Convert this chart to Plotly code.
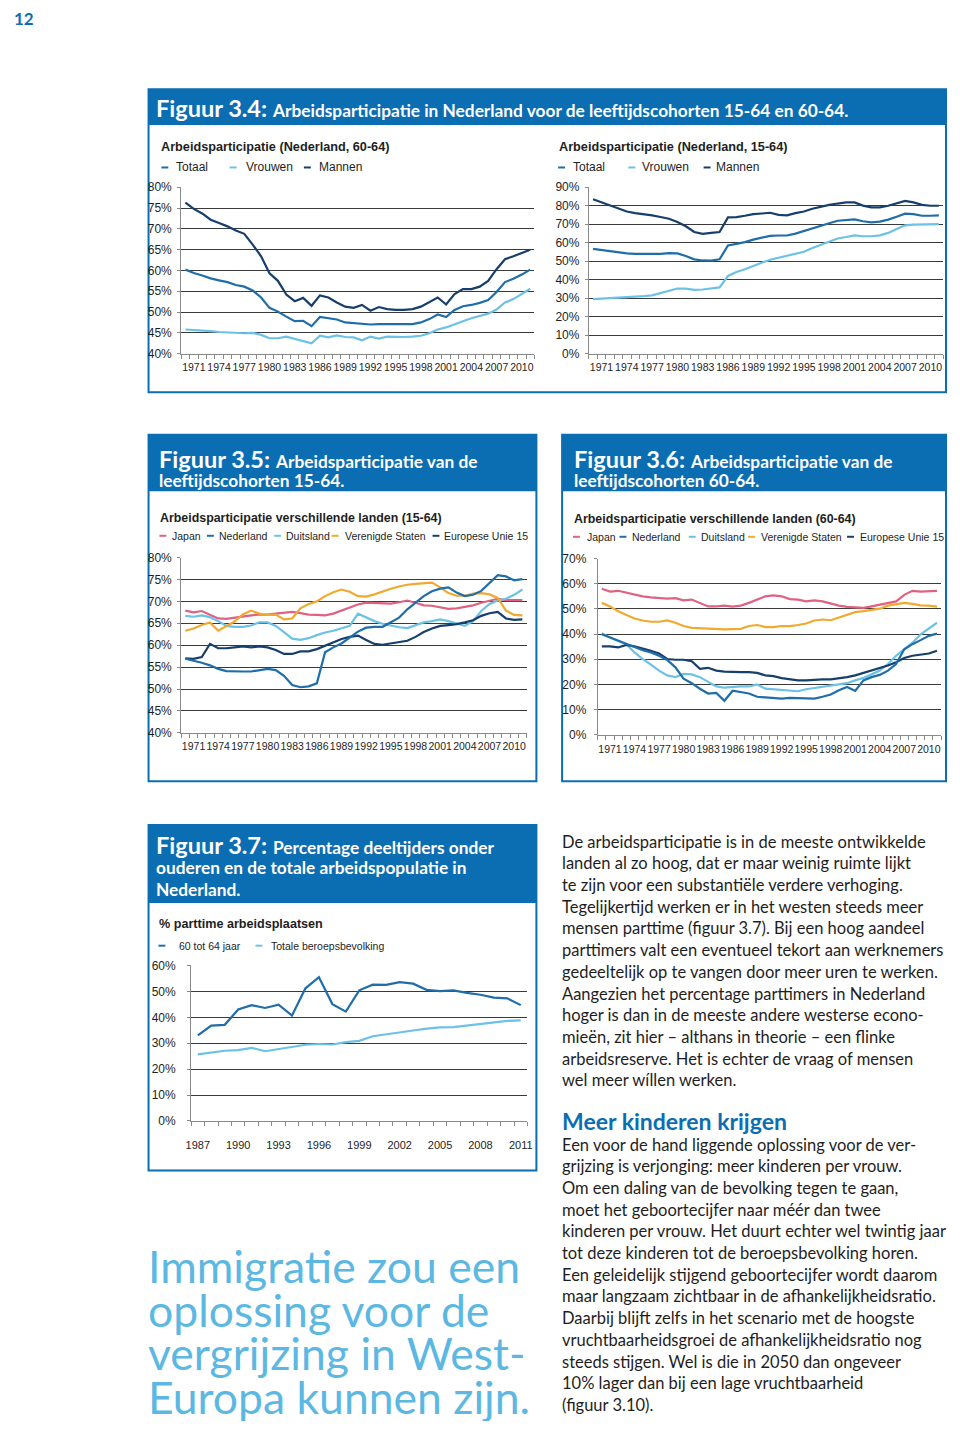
import plotly.graph_objects as go

# ---------------- DATA ----------------
years_long = list(range(1970, 2012))
years_pt = list(range(1987, 2012))

nl6064_totaal = [60.2, 59.4, 58.8, 58.1, 57.6, 57.2, 56.5, 56.1, 55.2, 53.5,
                 51.0, 50.1, 48.9, 47.8, 47.9, 46.6, 48.8, 48.5, 48.2, 47.5,
                 47.3, 47.2, 47.0, 47.1, 47.1, 47.0, 47.0, 47.1, 47.5, 48.3,
                 49.4, 48.8, 50.5, 51.4, 51.7, 52.2, 52.9, 54.8, 57.2, 58.0,
                 59.0, 60.2]
nl6064_vrouwen = [45.8, 45.7, 45.5, 45.4, 45.2, 45.1, 44.9, 44.9, 45.0, 44.5,
                  43.7, 43.7, 44.1, 43.6, 43.1, 42.5, 44.3, 43.9, 44.4, 44.0,
                  43.9, 43.2, 44.1, 43.6, 44.1, 44.0, 44.0, 44.1, 44.3, 44.9,
                  45.8, 46.3, 47.1, 47.8, 48.5, 49.0, 49.6, 50.6, 52.3, 53.1,
                  54.3, 55.6]
nl6064_mannen = [76.3, 74.8, 73.7, 72.2, 71.4, 70.6, 69.6, 68.8, 66.2, 63.4,
                 59.3, 57.5, 54.2, 52.6, 53.4, 51.5, 54.0, 53.5, 52.3, 51.3,
                 51.0, 51.7, 50.3, 51.2, 50.7, 50.5, 50.5, 50.7, 51.3, 52.3,
                 53.5, 51.8, 54.3, 55.5, 55.5, 56.1, 57.5, 60.3, 62.7, 63.4,
                 64.2, 65.0]

nl1564_totaal = [56.7, 56.0, 55.5, 54.9, 54.2, 54.0, 54.0, 53.8, 54.0, 54.4,
                 54.2, 52.8, 51.0, 50.4, 50.3, 51.0, 58.5, 59.4, 60.3, 61.7,
                 62.8, 63.7, 63.9, 63.9, 64.9, 66.2, 67.8, 69.2, 70.5, 71.9,
                 72.3, 72.6, 71.6, 71.0, 71.4, 72.5, 74.1, 75.7, 75.5, 74.6,
                 74.6, 74.8]
nl1564_vrouwen = [29.5, 29.7, 30.1, 30.2, 30.4, 30.6, 31.1, 31.5, 32.6, 34.0,
                  35.2, 35.2, 34.5, 34.7, 35.1, 35.8, 42.0, 44.2, 45.6, 47.6,
                  49.2, 50.8, 51.9, 52.6, 53.7, 55.1, 57.2, 59.0, 60.5, 62.3,
                  63.1, 64.0, 63.5, 63.5, 64.0, 65.3, 67.4, 69.4, 69.8, 69.8,
                  69.8, 70.1]
nl1564_mannen = [83.5, 81.8, 80.5, 78.7, 76.9, 76.0, 75.5, 74.8, 73.9, 73.0,
                 71.2, 68.9, 65.8, 64.8, 65.3, 65.8, 73.7, 73.9, 74.6, 75.5,
                 75.8, 76.2, 75.1, 74.8, 76.0, 76.9, 78.4, 79.6, 80.5, 81.2,
                 81.8, 81.8, 80.1, 79.1, 79.1, 80.0, 81.4, 82.6, 81.8, 80.5,
                 80.0, 80.0]

l1564_japan = [67.9, 67.5, 67.8, 67.0, 66.1, 66.0, 66.3, 66.5, 66.8, 67.0,
               67.0, 67.2, 67.4, 67.6, 67.3, 67.0, 66.9, 66.8, 67.2, 67.9,
               68.7, 69.3, 69.7, 69.6, 69.5, 69.5, 69.8, 70.2, 69.7, 69.1,
               69.0, 68.7, 68.3, 68.4, 68.7, 69.1, 69.7, 70.2, 70.6, 70.3,
               70.3, 70.3]
l1564_nederland = [56.9, 56.5, 56.0, 55.4, 54.6, 54.1, 54.0, 54.0, 54.0, 54.3,
                   54.6, 54.3, 53.0, 50.9, 50.4, 50.6, 51.3, 58.4, 59.5, 60.4,
                   61.8, 63.1, 64.0, 64.2, 64.2, 65.2, 66.3, 68.2, 69.7, 71.2,
                   72.3, 72.9, 73.2, 72.0, 71.2, 71.5, 72.4, 74.2, 76.0, 75.7,
                   74.8, 75.1]
l1564_duitsland = [66.7, 66.5, 66.8, 66.4, 65.5, 64.4, 64.2, 64.2, 64.5, 65.2,
                   65.2, 64.4, 63.0, 61.5, 61.2, 61.6, 62.3, 62.9, 63.3, 63.8,
                   64.4, 67.2, 66.4, 65.5, 64.9, 64.5, 64.1, 63.9, 64.6, 65.2,
                   65.5, 65.9, 65.5, 64.9, 64.4, 65.5, 67.8, 69.4, 70.2, 70.6,
                   71.5, 72.7]
l1564_vs = [63.3, 63.8, 64.6, 65.2, 63.3, 64.4, 65.4, 67.0, 67.9, 67.2,
            66.9, 67.0, 65.9, 66.1, 68.4, 69.4, 70.0, 71.2, 72.1, 72.7,
            72.2, 71.2, 71.1, 71.6, 72.3, 72.9, 73.4, 73.8, 74.0, 74.2,
            74.3, 73.2, 71.9, 71.3, 71.3, 71.8, 71.9, 71.6, 70.8, 67.9,
            66.9, 66.8]
l1564_eu15 = [57.0, 56.9, 57.3, 60.3, 59.3, 59.3, 59.5, 59.7, 59.5, 59.7,
              59.5, 58.9, 58.0, 58.0, 58.6, 58.6, 59.1, 59.9, 60.6, 61.4,
              61.9, 62.2, 61.2, 60.3, 60.1, 60.4, 60.6, 61.0, 61.9, 63.0,
              63.8, 64.4, 64.6, 64.8, 65.2, 65.7, 66.7, 67.3, 67.6, 66.1,
              65.8, 65.9]

l6064_japan = [58.0, 56.9, 57.2, 56.5, 55.6, 55.0, 54.6, 54.3, 54.1, 54.3,
               53.4, 53.7, 52.4, 51.0, 51.0, 51.3, 50.9, 51.3, 52.4, 53.7,
               55.0, 55.4, 55.0, 53.9, 53.7, 53.0, 53.4, 53.0, 52.1, 51.3,
               50.8, 50.7, 50.4, 51.0, 51.7, 52.4, 53.0, 55.6, 57.2, 56.9,
               57.2, 57.2]
l6064_nederland = [39.9, 38.6, 37.6, 36.0, 34.7, 33.6, 32.7, 31.4, 29.7, 26.8,
                   22.3, 20.5, 18.3, 16.4, 16.6, 13.5, 17.5, 17.0, 16.4, 15.1,
                   14.8, 14.7, 14.4, 14.7, 14.7, 14.4, 14.4, 15.1, 16.0, 17.7,
                   19.0, 17.4, 21.6, 22.9, 23.8, 25.5, 28.1, 34.0, 36.0, 37.6,
                   39.3, 40.2]
l6064_duitsland = [40.3, 38.6, 37.3, 36.0, 32.7, 30.1, 27.9, 25.5, 23.6, 22.9,
                   24.2, 24.0, 22.9, 20.9, 19.2, 18.7, 19.0, 19.2, 19.2, 20.0,
                   18.3, 18.1, 17.9, 17.4, 17.3, 18.1, 18.6, 19.0, 19.6, 20.0,
                   20.5, 21.6, 22.6, 24.0, 25.5, 28.1, 31.4, 34.0, 36.6, 39.9,
                   42.1, 44.5]
l6064_vs = [52.4, 51.0, 49.1, 47.8, 46.2, 45.4, 44.9, 44.9, 45.4, 44.5,
            43.2, 42.5, 42.3, 42.1, 42.1, 41.9, 42.0, 42.1, 43.2, 43.6,
            42.8, 42.8, 43.2, 43.2, 43.6, 44.2, 45.4, 45.8, 45.5, 46.5,
            47.8, 48.7, 49.1, 49.5, 50.1, 51.3, 52.0, 52.4, 52.0, 51.4,
            51.3, 50.9]
l6064_eu15 = [35.1, 35.1, 34.7, 35.7, 35.1, 34.4, 33.4, 32.3, 30.1, 29.8,
              29.8, 29.2, 26.2, 26.6, 25.5, 25.1, 24.9, 24.9, 24.9, 24.6,
              23.6, 23.3, 22.5, 21.9, 21.6, 21.6, 21.9, 22.0, 22.0, 22.3,
              22.9, 23.6, 24.5, 25.5, 26.4, 27.5, 28.8, 30.5, 31.4, 31.8,
              32.3, 33.4]

pt_6064 = [33.0, 36.8, 37.1, 43.0, 44.7, 43.6, 44.9, 40.7, 51.2, 55.5,
           45.1, 42.2, 50.4, 52.6, 52.5, 53.6, 53.0, 50.6, 50.1, 50.4,
           49.4, 48.7, 47.6, 47.3, 44.7]
pt_totaal = [25.7, 26.4, 27.1, 27.3, 28.2, 26.9, 27.7, 28.6, 29.4, 29.7,
             29.5, 30.4, 30.9, 32.7, 33.5, 34.2, 34.9, 35.6, 36.1, 36.2,
             36.8, 37.2, 38.0, 38.6, 38.8]

ticks_long = [1971, 1974, 1977, 1980, 1983, 1986, 1989, 1992, 1995, 1998, 2001, 2004, 2007, 2010]
ticks_pt = [1987, 1990, 1993, 1996, 1999, 2002, 2005, 2008, 2011]

# ---------------- STYLE ----------------
# the browser keeps its default 8px body margin, so the figure is 16px smaller than the page
PM = 8
W, H = 960 - 2 * PM, 1429 - 2 * PM
BAND = "#0b6db2"
MED = "#1f6ea9"
LIGHT = "#6cc1e6"
NAVY = "#173f6c"
PINK = "#df6282"
ORANGE = "#f1a92e"
QUOTE = "#5cb8e2"
TXT = "#1e1e1e"
CHART_FONT = "Liberation Sans, Arial, sans-serif"
BODY_FONT = "Lato, Noto Sans, sans-serif"


def fx(x):
    return (x - PM) / W


def fy(y):
    return 1 - (y - PM) / H


fig = go.Figure()

charts = [
    dict(x0=178, x1=535, y0=182, y1=350, yr=[40, 80], dt=5, xr=[1969.5, 2011.5], tv=ticks_long,
         series=[(years_long, nl6064_vrouwen, LIGHT, "Vrouwen"), (years_long, nl6064_totaal, MED, "Totaal"),
                 (years_long, nl6064_mannen, NAVY, "Mannen")], xstand=4, ystand=3),
    dict(x0=590, x1=948, y0=182, y1=350, yr=[0, 90], dt=10, xr=[1969.5, 2011.5], tv=ticks_long,
         series=[(years_long, nl1564_vrouwen, LIGHT, "Vrouwen"), (years_long, nl1564_totaal, MED, "Totaal"),
                 (years_long, nl1564_mannen, NAVY, "Mannen")], xstand=4, ystand=3),
    dict(x0=178, x1=527, y0=556, y1=733, yr=[40, 80], dt=5, xr=[1969.5, 2011.5], tv=ticks_long,
         series=[(years_long, l1564_japan, PINK, "Japan"), (years_long, l1564_duitsland, LIGHT, "Duitsland"),
                 (years_long, l1564_vs, ORANGE, "Verenigde Staten"), (years_long, l1564_eu15, NAVY, "Europese Unie 15"),
                 (years_long, l1564_nederland, MED, "Nederland")], xstand=4, ystand=3),
    dict(x0=599, x1=946, y0=557, y1=735, yr=[0, 70], dt=10, xr=[1969.5, 2011.5], tv=ticks_long,
         series=[(years_long, l6064_japan, PINK, "Japan"), (years_long, l6064_vs, ORANGE, "Verenigde Staten"),
                 (years_long, l6064_duitsland, LIGHT, "Duitsland"), (years_long, l6064_eu15, NAVY, "Europese Unie 15"),
                 (years_long, l6064_nederland, MED, "Nederland")], xstand=5, ystand=5),
    dict(x0=188, x1=528, y0=968, y1=1125, yr=[0, 60], dt=10, xr=[1986.5, 2011.5], tv=ticks_pt,
         series=[(years_pt, pt_totaal, LIGHT, "Totale beroepsbevolking"), (years_pt, pt_6064, MED, "60 tot 64 jaar")],
         xstand=14, ystand=9),
]

layout_axes = {}
for i, c in enumerate(charts, start=1):
    sx = "" if i == 1 else str(i)
    for (xs, ys, col, nm) in c["series"]:
        fig.add_trace(go.Scatter(x=xs, y=ys, mode="lines", name=nm, showlegend=False,
                                 line=dict(color=col, width=2.2),
                                 xaxis="x" + sx, yaxis="y" + sx))
    layout_axes["xaxis" + sx] = dict(
        domain=[fx(c["x0"]), fx(c["x1"])], anchor="y" + sx, range=c["xr"],
        tickmode="array", tickvals=c["tv"], ticktext=[str(v) for v in c["tv"]],
        tickangle=0, ticks="", showgrid=False, zeroline=False, showline=True, linecolor="#8a8a8a", linewidth=1,
        tickfont=dict(family=CHART_FONT, size=10.5 if i < 5 else 11, color=TXT),
        ticklabelstandoff=c["xstand"],
        minor=dict(tickmode="linear", tick0=c["xr"][0], dtick=1, ticks="outside", ticklen=4,
                   tickcolor="#8a8a8a", showgrid=False),
        fixedrange=True,
    )
    layout_axes["yaxis" + sx] = dict(
        domain=[fy(c["y1"]), fy(c["y0"])], anchor="x" + sx, range=c["yr"],
        tickmode="linear", tick0=0, dtick=c["dt"], ticksuffix="%",
        ticks="outside", ticklen=3, tickcolor="#8a8a8a",
        showgrid=True, gridcolor="#3a3a3a", gridwidth=1.3, zeroline=False,
        showline=True, linecolor="#8a8a8a", linewidth=1,
        tickfont=dict(family=CHART_FONT, size=12, color=TXT),
        ticklabelstandoff=c["ystand"],
        fixedrange=True,
    )

shapes = []
annotations = []


def text(x, y, s, size, color=TXT, family=BODY_FONT, anchor="left"):
    annotations.append(dict(x=fx(x), y=fy(y), xref="paper", yref="paper", xanchor=anchor, yanchor="middle",
                            text=s, showarrow=False, font=dict(family=family, size=size, color=color)))


def box(x0, y0, x1, y1, band_bottom):
    shapes.append(dict(type="rect", xref="paper", yref="paper", x0=fx(x0), x1=fx(x1), y0=fy(band_bottom), y1=fy(y0),
                       fillcolor=BAND, line=dict(width=0), layer="below"))
    shapes.append(dict(type="rect", xref="paper", yref="paper", x0=fx(x0), x1=fx(x1), y0=fy(y1), y1=fy(y0),
                       fillcolor="rgba(0,0,0,0)", line=dict(color=BAND, width=2), layer="below"))


def legend(items, y, size):
    for (label, dx, tx, col) in items:
        shapes.append(dict(type="line", xref="paper", yref="paper", x0=fx(dx), x1=fx(dx + 7), y0=fy(y), y1=fy(y),
                           line=dict(color=col, width=2)))
        text(tx, y, label, size, family=CHART_FONT)


# page number
text(7, 12, "<b>12</b>", 17, color=BAND, family=BODY_FONT)

# boxes (right edge limited by the figure width)
box(145, 83, 951, 389, 119)
box(145, 432, 537, 782, 489)
box(563, 432, 951, 782, 489)
box(145, 826, 537, 1175, 905)

HS = 17.3
HEAD_SMALL = "<span style='font-size:%.1fpx'>" % HS
BIG = 23.5
text(151, 102, "<b>Figuur 3.4:</b> " + HEAD_SMALL + "<b>Arbeidsparticipatie in Nederland voor de leeftijdscohorten 15-64 en 60-64.</b></span>",
     BIG, color="white")
text(154, 456, "<b>Figuur 3.5:</b> " + HEAD_SMALL + "<b>Arbeidsparticipatie van de</b></span>", BIG, color="white")
text(154, 478, "<b>leeftijdscohorten 15-64.</b>", HS, color="white")
text(573, 456, "<b>Figuur 3.6:</b> " + HEAD_SMALL + "<b>Arbeidsparticipatie van de</b></span>", BIG, color="white")
text(573, 478, "<b>leeftijdscohorten 60-64.</b>", HS, color="white")
text(151, 846, "<b>Figuur 3.7:</b> " + HEAD_SMALL + "<b>Percentage deeltijders onder</b></span>", BIG, color="white")
text(151, 869, "<b>ouderen en de totale arbeidspopulatie in</b>", HS, color="white")
text(151, 891, "<b>Nederland.</b>", HS, color="white")

# chart titles + legends
text(156, 141, "<b>Arbeidsparticipatie (Nederland, 60-64)</b>", 12.7, family=CHART_FONT)
legend([("Totaal", 158, 171, MED), ("Vrouwen", 227, 241, LIGHT), ("Mannen", 302, 315, NAVY)], 162, 12)
text(558, 141, "<b>Arbeidsparticipatie (Nederland, 15-64)</b>", 12.7, family=CHART_FONT)
legend([("Totaal", 559, 572, MED), ("Vrouwen", 630, 642, LIGHT), ("Mannen", 706, 716, NAVY)], 162, 12)

text(155, 516, "<b>Arbeidsparticipatie verschillende landen (15-64)</b>", 12.4, family=CHART_FONT)
legend([("Japan", 156, 167, PINK), ("Nederland", 204, 214, MED), ("Duitsland", 272, 282, LIGHT),
        ("Verenigde Staten", 330, 342, ORANGE), ("Europese Unie 15", 432, 442, NAVY)], 534, 10.5)
text(573, 517, "<b>Arbeidsparticipatie verschillende landen (60-64)</b>", 12.4, family=CHART_FONT)
legend([("Japan", 574, 586, PINK), ("Nederland", 621, 632, MED), ("Duitsland", 691, 701, LIGHT),
        ("Verenigde Staten", 751, 762, ORANGE), ("Europese Unie 15", 851, 862, NAVY)], 535, 10.5)

text(154, 926, "<b>% parttime arbeidsplaatsen</b>", 12.6, family=CHART_FONT)
legend([("60 tot 64 jaar", 155, 174, MED), ("Totale beroepsbevolking", 253, 267, LIGHT)], 948, 10.5)

# body text
para1 = [
    "De arbeidsparticipatie is in de meeste ontwikkelde",
    "landen al zo hoog, dat er maar weinig ruimte lijkt",
    "te zijn voor een substantiële verdere verhoging.",
    "Tegelijkertijd werken er in het westen steeds meer",
    "mensen parttime (figuur 3.7). Bij een hoog aandeel",
    "parttimers valt een eventueel tekort aan werknemers",
    "gedeeltelijk op te vangen door meer uren te werken.",
    "Aangezien het percentage parttimers in Nederland",
    "hoger is dan in de meeste andere westerse econo-",
    "mieën, zit hier – althans in theorie – een flinke",
    "arbeidsreserve. Het is echter de vraag of mensen",
    "wel meer wíllen werken.",
]
para2 = [
    "Een voor de hand liggende oplossing voor de ver-",
    "grijzing is verjonging: meer kinderen per vrouw.",
    "Om een daling van de bevolking tegen te gaan,",
    "moet het geboortecijfer naar méér dan twee",
    "kinderen per vrouw. Het duurt echter wel twintig jaar",
    "tot deze kinderen tot de beroepsbevolking horen.",
    "Een geleidelijk stijgend geboortecijfer wordt daarom",
    "maar langzaam zichtbaar in de afhankelijkheidsratio.",
    "Daarbij blijft zelfs in het scenario met de hoogste",
    "vruchtbaarheidsgroei de afhankelijkheidsratio nog",
    "steeds stijgen. Wel is die in 2050 dan ongeveer",
    "10% lager dan bij een lage vruchtbaarheid",
    "(figuur 3.10).",
]
for k, line in enumerate(para1):
    text(561, 843 + 21.9 * k, line, 16.5)
text(561, 1125, "<b>Meer kinderen krijgen</b>", 23, color=BAND)
for k, line in enumerate(para2):
    text(561, 1149 + 21.9 * k, line, 16.5)

quote = ["Immigratie zou een", "oplossing voor de", "vergrijzing in West-", "Europa kunnen zijn."]
for k, line in enumerate(quote):
    text(142, 1271 + 44 * k, line, 44.5, color=QUOTE)

fig.update_layout(
    width=W, height=H, margin=dict(l=0, r=0, t=0, b=0),
    paper_bgcolor="white", plot_bgcolor="white", showlegend=False,
    shapes=shapes, annotations=annotations, **layout_axes,
)
fig.write_html("out.html", config={"displayModeBar": False})
